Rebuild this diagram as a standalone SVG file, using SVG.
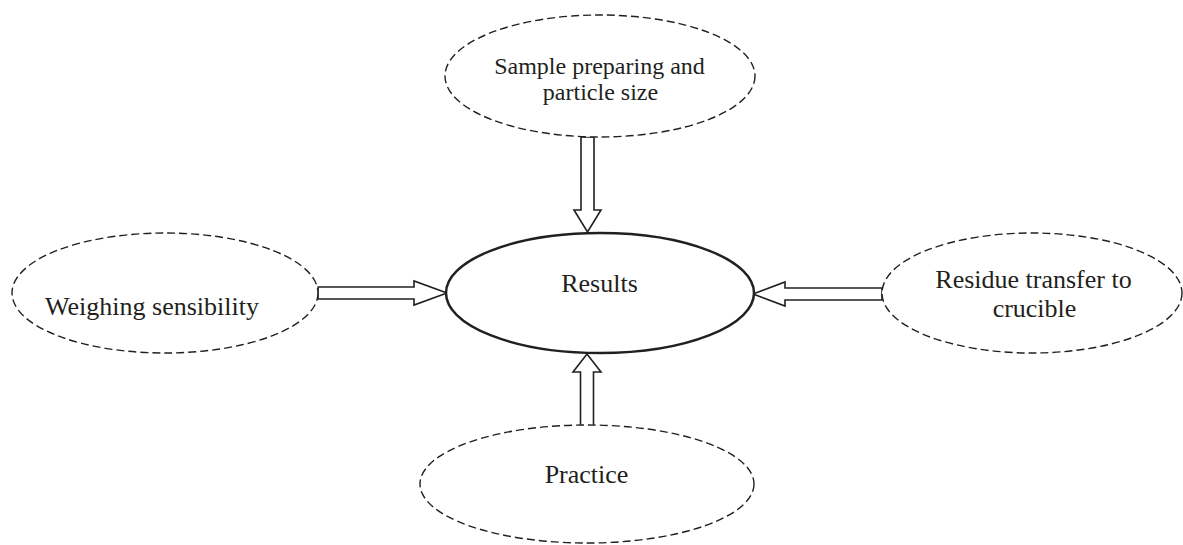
<svg xmlns="http://www.w3.org/2000/svg" width="1183" height="545" viewBox="0 0 1183 545">
<style>
.dash{fill:#fff;stroke:#231f20;stroke-width:1.4;stroke-dasharray:8 4}
.main{fill:#fff;stroke:#231f20;stroke-width:2.5}
.arrow{fill:#fff;stroke:#231f20;stroke-width:1.6;stroke-linejoin:miter}
text{font-family:"Liberation Serif","Times New Roman",serif;fill:#231f20;text-anchor:middle}
.t26{font-size:26px}
.t24{font-size:24px}
</style>
<rect width="1183" height="545" fill="#fff"/>
<g id="connectors">
<polygon class="arrow" points="581,137 594,137 594,210 601,210 587.5,232 574,210 581,210"/>
<polygon class="arrow" points="318,287 414,287 414,281 447,293 414,305 414,299 318,299"/>
<polygon class="arrow" points="882,288 785,288 785,282 753,294 785,306 785,300 882,300"/>
<polygon class="arrow" points="580.5,426 593.5,426 593.5,372 601,372 587,354 573,372 580.5,372"/>
</g>
<g id="node-results">
<ellipse class="main" cx="600" cy="293" rx="154" ry="60"/>
<text class="t26" x="599.5" y="292">Results</text>
</g>
<g id="node-sample">
<ellipse class="dash" cx="600" cy="76" rx="155" ry="61"/>
<text class="t24" x="599.5" y="74">Sample preparing and</text>
<text class="t24" x="600.5" y="100">particle size</text>
</g>
<g id="node-weighing">
<ellipse class="dash" cx="165" cy="293" rx="153" ry="60"/>
<text class="t26" x="152" y="315">Weighing sensibility</text>
</g>
<g id="node-residue">
<ellipse class="dash" cx="1032" cy="293" rx="150" ry="60"/>
<text class="t26" x="1033.5" y="288">Residue transfer to</text>
<text class="t26" x="1034.5" y="317">crucible</text>
</g>
<g id="node-practice">
<ellipse class="dash" cx="587" cy="484" rx="167" ry="59"/>
<text class="t26" x="586.5" y="483">Practice</text>
</g>
</svg>
